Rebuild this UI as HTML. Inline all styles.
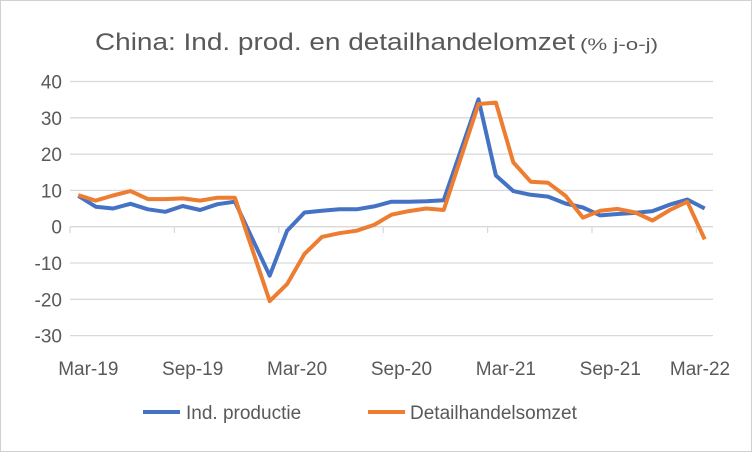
<!DOCTYPE html>
<html><head><meta charset="utf-8"><style>
html,body{margin:0;padding:0;background:#fff;}
svg{display:block;font-family:"Liberation Sans",sans-serif;}
</style></head><body>
<svg width="752" height="452" viewBox="0 0 752 452">
<rect x="0.5" y="0.5" width="751" height="451" fill="#fff" stroke="#d0d0d0"/>
<text x="95" y="50" font-size="24" fill="#595959" textLength="480" lengthAdjust="spacingAndGlyphs">China: Ind. prod. en detailhandelomzet</text>
<text x="580" y="50" font-size="17" fill="#595959" textLength="78" lengthAdjust="spacingAndGlyphs">(% j-o-j)</text>
<g id="grid"></g><g id="series"></g><g id="labels"></g>
<g>
<line x1="143" y1="412" x2="180" y2="412" stroke="#4472C4" stroke-width="4"/>
<text x="186" y="419" font-size="19" fill="#595959">Ind. productie</text>
<line x1="368" y1="412" x2="405" y2="412" stroke="#ED7D31" stroke-width="4"/>
<text x="410" y="419" font-size="19" fill="#595959">Detailhandelsomzet</text>
</g>
</svg>
<script>
const yTicks=[40,30,20,10,0,-10,-20,-30];
const xLabels=["Mar-19","Sep-19","Mar-20","Sep-20","Mar-21","Sep-21","Mar-22"];
const indProd=[8.5,5.5,5.0,6.3,4.8,4.1,5.7,4.6,6.2,6.9,null,-13.5,-1.1,3.9,4.4,4.8,4.8,5.6,6.9,6.9,7.0,7.3,null,35.1,14.1,9.8,8.8,8.3,6.4,5.3,3.1,3.5,3.8,4.3,6.1,7.5,5.0];
const retail=[8.7,7.2,8.6,9.8,7.6,7.6,7.8,7.2,8.0,8.0,null,-20.5,-15.8,-7.5,-2.8,-1.8,-1.1,0.5,3.3,4.3,5.0,4.6,null,33.8,34.2,17.7,12.4,12.1,8.5,2.5,4.4,4.9,3.9,1.7,4.6,6.9,-3.5];
const NS="http://www.w3.org/2000/svg";
const y=v=>226.7-v*3.63;
const x=i=>78.3+i*17.4;
const grid=document.getElementById('grid'),labels=document.getElementById('labels'),series=document.getElementById('series');
yTicks.forEach(t=>{
 const l=document.createElementNS(NS,'line');
 l.setAttribute('x1',70);l.setAttribute('x2',713);l.setAttribute('y1',y(t));l.setAttribute('y2',y(t));
 l.setAttribute('stroke','#d9d9d9');l.setAttribute('stroke-width',1.3);
 
 
 grid.appendChild(l);
 const tx=document.createElementNS(NS,'text');
 tx.setAttribute('x',62);tx.setAttribute('y',y(t)+7);tx.setAttribute('text-anchor','end');
 tx.setAttribute('font-size',19);tx.setAttribute('fill','#595959');tx.textContent=t;
 
 
 labels.appendChild(tx);
});
for(let k=0;k<=6;k++){
 const tk=document.createElementNS(NS,'line');
 const xx=70+k*6*17.4;
 tk.setAttribute('x1',xx);tk.setAttribute('x2',xx);tk.setAttribute('y1',226.7);tk.setAttribute('y2',233);
 tk.setAttribute('stroke','#d9d9d9');tk.setAttribute('stroke-width',1.3);
 
 
 grid.appendChild(tk);
}
xLabels.forEach((s,k)=>{
 const tx=document.createElementNS(NS,'text');
 tx.setAttribute('x',Math.min(x(k*6)+10,700));tx.setAttribute('y',375);tx.setAttribute('text-anchor','middle');
 tx.setAttribute('font-size',19);tx.setAttribute('fill','#595959');tx.textContent=s;
 
 
 labels.appendChild(tx);
});
function draw(arr,color,name){
 const pts=[];arr.forEach((v,i)=>{if(v!==null)pts.push(x(i).toFixed(1)+','+y(v).toFixed(1));});
 const p=document.createElementNS(NS,'polyline');
 p.setAttribute('points',pts.join(' '));p.setAttribute('fill','none');p.setAttribute('stroke',color);
 p.setAttribute('stroke-width',4);p.setAttribute('stroke-linejoin','round');
 
 
 series.appendChild(p);
}
draw(indProd,'#4472C4','ind-productie-line');
draw(retail,'#ED7D31','detailhandelsomzet-line');
</script>
</body></html>
